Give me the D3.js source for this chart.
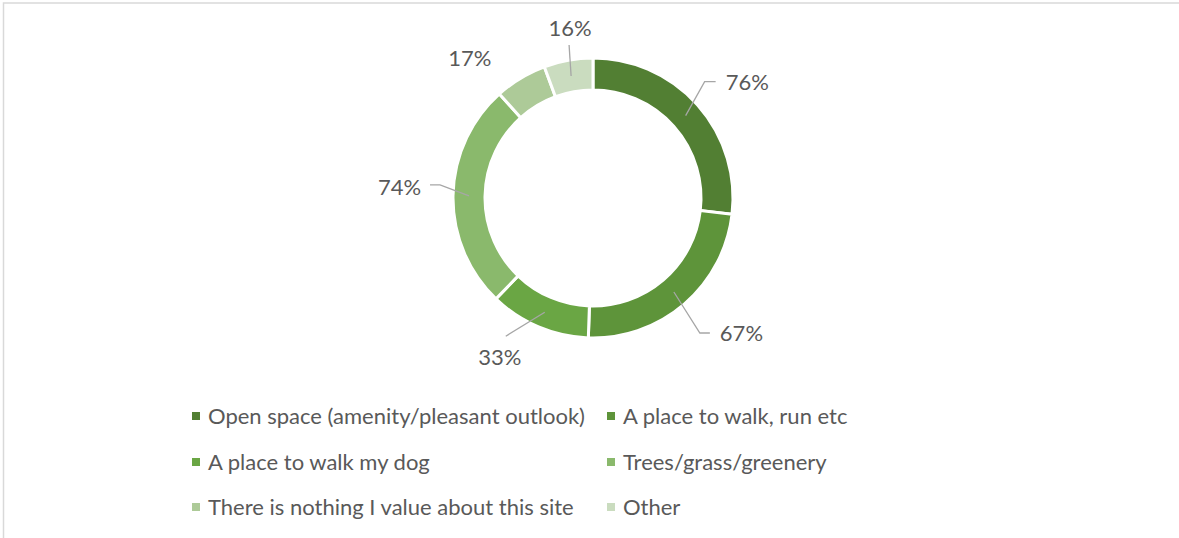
<!DOCTYPE html>
<html>
  <head>
    <title>Donut</title>
    <meta charset="utf-8" />
    <style>
      body { margin: 0; background: #fff; }
      text { font-family: Lato, "Open Sans", sans-serif; fill: #595959; }
    </style>
  </head>
  <body>
    <div id="chart"></div>
    <script src="https://d3js.org/d3.v7.min.js"></script>
    <script type="text/javascript">
        const categories = [
            "Open space (amenity/pleasant outlook)",
            "A place to walk, run etc",
            "A place to walk my dog",
            "Trees/grass/greenery",
            "There is nothing I value about this site",
            "Other"
        ];
        const values = [76, 67, 33, 74, 17, 16];
        const colors = ["#527f33", "#5e943a", "#6aa644", "#8ab96c", "#adca98", "#cadcbf"];

        const width = 1179;
        const height = 538;
        const cx = 593, cy = 198;
        const outerR = 140, innerR = 108;

        // label placement relative to the slice centroid
        const labelLayout = [
            {elbow: [19, -34], tail: 11, text: [40, -33], anchor: "start"},
            {elbow: [26, 41], tail: 10, text: [46, 41], anchor: "start"},
            {elbow: [-39, 24], tail: 0, text: [-45, 45], anchor: "middle"},
            {elbow: [-29, -11], tail: -10, text: [-48, -9], anchor: "end"},
            {elbow: null, text: [-59, -34], anchor: "middle"},
            {elbow: [-2, -31], tail: 0, text: [-1, -48], anchor: "middle"}
        ];

        const svg = d3.select("#chart").append("svg")
            .attr("width", width)
            .attr("height", height);

        svg.append("path")
            .attr("d", `M3.5,${height + 5}V3H${width + 5}`)
            .attr("fill", "none")
            .attr("stroke", "#d9d9d9")
            .attr("stroke-width", 1.5);

        const pie = d3.pie().sort(null).value(d => d);
        const arcs = pie(values);
        const arc = d3.arc().innerRadius(innerR).outerRadius(outerR);

        const g = svg.append("g").attr("transform", `translate(${cx},${cy})`);

        g.selectAll("path.slice")
            .data(arcs)
            .join("path")
            .attr("class", "slice")
            .attr("d", arc)
            .attr("fill", (d, i) => colors[i])
            .attr("stroke", "#fff")
            .attr("stroke-width", 3);

        arcs.forEach((d, i) => {
            const [px, py] = arc.centroid(d);
            const lay = labelLayout[i];
            if (lay.elbow) {
                const ex = px + lay.elbow[0], ey = py + lay.elbow[1];
                const pts = [[px, py], [ex, ey]];
                if (lay.tail) pts.push([ex + lay.tail, ey]);
                g.append("path")
                    .attr("d", d3.line()(pts))
                    .attr("fill", "none")
                    .attr("stroke", "#a6a6a6")
                    .attr("stroke-width", 1.3);
            }
            g.append("text")
                .attr("x", px + lay.text[0])
                .attr("y", py + lay.text[1])
                .attr("dy", "0.35em")
                .attr("text-anchor", lay.anchor)
                .attr("font-size", 22)
                .text(values[i] + "%");
        });

        // legend
        const legX = [192, 607];
        const legY = [416, 462, 507];
        const legend = svg.append("g");
        categories.forEach((c, i) => {
            const x = legX[i % 2], y = legY[Math.floor(i / 2)];
            legend.append("rect")
                .attr("x", x)
                .attr("y", y - 4)
                .attr("width", 8)
                .attr("height", 8)
                .attr("fill", colors[i]);
            legend.append("text")
                .attr("x", x + 16)
                .attr("y", y)
                .attr("dy", "0.35em")
                .attr("font-size", 22)
                .text(c);
        });
    </script>
  </body>
</html>
